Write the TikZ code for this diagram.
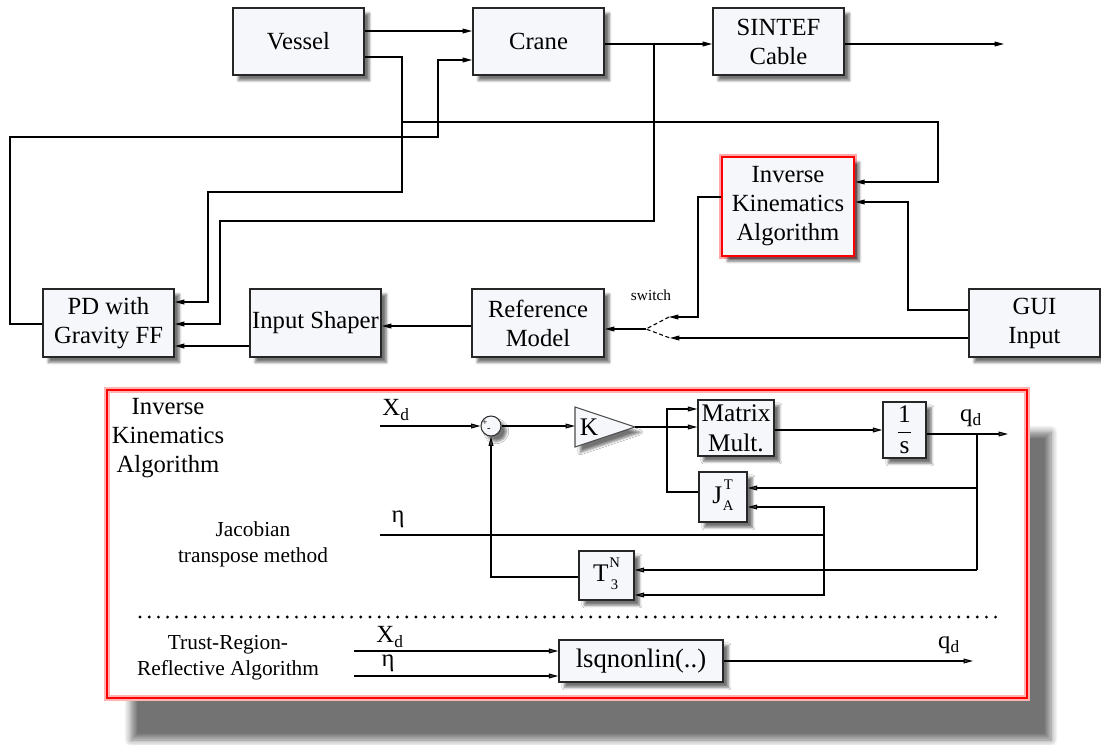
\documentclass[tikz,border=0pt]{standalone}
\usepackage{fontspec}
\setmainfont{Liberation Serif}
\usetikzlibrary{arrows.meta,shadows.blur,calc}
\definecolor{boxfill}{HTML}{F5F7FA}
\newcommand{\SupSub}[3]{#1\kern0.5pt\raisebox{2pt}{\fontsize{11}{11}\selectfont\begin{tabular}[c]{@{}c@{}}#2\\[5pt]#3\end{tabular}}}
\tikzset{
  wh/.style 2 args={minimum width=#1*0.75pt, minimum height=#2*0.75pt},
  bshadow/.style={blur shadow={shadow xshift=4pt, shadow yshift=-4pt, shadow blur steps=6, shadow opacity=55}},
  blk/.style={draw=black!85, line width=1.4pt, fill=boxfill, inner sep=1pt, align=center,
    font=\fontsize{18.5}{21.75}\selectfont, bshadow},
  sblk/.style={draw=black!85, line width=1.1pt, fill=boxfill, inner sep=1pt, align=center,
    font=\fontsize{19}{22.5}\selectfont, bshadow},
  arr/.style={line width=0.8pt, -{Triangle[length=7pt,width=3.6pt]}},
  ln/.style={line width=0.8pt},
  lbl/.style={font=\fontsize{18.5}{21.75}\selectfont, align=center, inner sep=0pt},
  slbl/.style={font=\fontsize{16}{19.5}\selectfont, align=center, inner sep=0pt},
}
\begin{document}
\begin{tikzpicture}[x=0.75pt,y=-0.75pt]
\useasboundingbox (0,0) rectangle (1101,744);
% ---------------- top diagram ----------------
\node[blk, wh={131}{67}] (vessel) at (298.5,41.5) {Vessel};
\node[blk, wh={131}{67}] (crane) at (538.5,41.5) {Crane};
\node[blk, wh={131}{67}] (sintef) at (778.5,41.5) {SINTEF\\Cable};
\path[draw=red!35, line width=4pt] (722,157) rectangle (854,256);
\node[blk, wh={132}{99}, draw=red, line width=2pt] (ik) at (788,206.5) {Inverse\\Kinematics\\Algorithm};
\node[blk, wh={131}{68}] (pd) at (108.5,323) {PD with\\Gravity FF};
\node[blk, wh={131}{68}, inner sep=0pt] (shaper) at (315.5,323) {Input Shaper};
\node[blk, wh={132}{68}] (ref) at (538,323) {Reference\\Model};
\node[blk, wh={131}{68}] (gui) at (1034.5,323) {GUI\\Input};

\coordinate (swtop) at (669,317);
\coordinate (swbot) at (670,338);
\coordinate (pivot) at (646,329);
\coordinate (outA) at (1004,44);

\draw[arr] (vessel.east |- 0,31) -- (crane.west |- 0,31);
\draw[arr] (vessel.east |- 0,57) -| (402,192) -| (208,302) -- (pd.east |- 0,302);
\draw[arr] (401,122) -| (938,182) -- (ik.east |- 0,182);
\draw[arr] (pd.west |- 0,324) -| (10,137) -| (438,60) -- (crane.west |- 0,60);
\draw[arr] (crane.east |- 0,44) -- (sintef.west |- 0,44);
\draw[arr] (654,44) -- (654,221) -| (220,324) -- (pd.east |- 0,324);
\draw[arr] (sintef.east |- 0,44) -- (outA);
\draw[arr] (shaper.west |- 0,346) -- (pd.east |- 0,346);
\draw[arr] (ref.west |- 0,326) -- (shaper.east |- 0,326);
\draw[arr] (gui.west |- 0,310) -| (908,202) -- (ik.east |- 0,202);
\draw[arr] (ik.west |- 0,197) -| (698,317) -- (swtop);
\draw[arr] (gui.west |- 0,338) -- (swbot);
\draw[ln, dash pattern=on 3pt off 2pt] (swtop) -- (pivot) -- (swbot);
\draw[arr] (pivot) -- (ref.east |- pivot);
\node[font=\fontsize{11.5}{13}\selectfont, inner sep=0pt] (swlbl) at (651,295) {switch};

% ---------------- lower panel ----------------
\path[blur shadow={shadow xshift=18pt, shadow yshift=-31.5pt, shadow blur steps=8, shadow opacity=55, shadow blur radius=5pt}]
  (107,390) rectangle (1027,698);
\path[draw=red!30, line width=5pt, fill=white] (107,390) rectangle (1027,698);
\node[draw=red, line width=2.2pt, wh={920}{308}, inner sep=0pt] (frame) at (567,544) {};

\node[lbl] (iktitle) at (168,438) {Inverse\\Kinematics\\Algorithm};
\node[slbl] (jtm) at (253,544) {Jacobian\\transpose method};
\node[slbl] (trr) at (228,658) {Trust-Region-\\Reflective Algorithm};

\node[lbl] (xd1) at (396,410) {X\textsubscript{d}};
\node[lbl] (eta1) at (398,519) {η};
\node[lbl] (qd1) at (971,418) {q\textsubscript{d}};
\node[lbl] (xd2) at (390,637) {X\textsubscript{d}};
\node[lbl] (eta2) at (388,663) {η};
\node[lbl] (qd2) at (949,645) {q\textsubscript{d}};

\node[circle, draw=black!80, line width=0.8pt, fill=boxfill, minimum size=15pt, inner sep=0pt, bshadow] (sum) at (491,426) {};
\node[font=\fontsize{7}{7}\selectfont, inner sep=0pt] (plus) at (485,423) {+};
\node[font=\fontsize{8}{8}\selectfont, inner sep=0pt] (minus) at (489,430) {-};

\filldraw[fill=boxfill, draw=black!70, line width=0.8pt, bshadow] (575,407) -- (635,427) -- (575,447) -- cycle;
\node[font=\fontsize{19}{22}\selectfont, inner sep=0pt] (K) at (589,427) {K};
\coordinate (Kin) at (575,426);
\coordinate (Kout) at (635,427);

\node[sblk, wh={76}{56}, inner sep=0pt] (mm) at (736,428) {Matrix\\Mult.};
\node[sblk, wh={43}{56}] (ons) at (904.5,430) {$\displaystyle\frac{\textrm{1}}{\textrm{s}}$};
\node[sblk, wh={48}{50}] (J) at (723,497) {\SupSub{J}{T}{A}};
\node[sblk, wh={55}{49}] (T) at (606.5,575.5) {\SupSub{T}{N}{3}};
\node[sblk, wh={164}{42}, font=\fontsize{20}{24}\selectfont] (lsq) at (641,661) {lsqnonlin(..)};

\coordinate (xdin) at (380,426);
\coordinate (etain) at (380,535);
\coordinate (qout) at (1008,434);
\coordinate (in1) at (354,651);
\coordinate (in2) at (354,676);
\coordinate (qout2) at (973,661);

\draw[arr] (xdin) -- (sum.west);
\draw[arr] (sum.east) -- (Kin);
\draw[arr] (Kout) -- (mm.west |- Kout);
\draw[arr] (J.west |- 0,492) -| (667,409) -- (mm.west |- 0,409);
\draw[arr] (mm.east |- 0,430) -- (ons.west |- 0,430);
\draw[arr] (ons.east |- 0,434) -- (qout);
\draw[ln] (977,434) -- (977,570);
\draw[arr] (977,488) -- (J.east |- 0,488);
\draw[arr] (977,570) -- (T.east |- 0,570);
\draw[arr] (etain) -| (824,507) -- (J.east |- 0,507);
\draw[arr] (824,535) -- (824,595) -- (T.east |- 0,595);
\draw[arr] (T.west |- 0,577) -| (sum.south);
\draw[line width=2.4pt, line cap=round, dash pattern=on 0pt off 6.9pt] (140,617) -- (1001,617);
\draw[arr] (in1) -- (lsq.west |- in1);
\draw[arr] (in2) -- (lsq.west |- in2);
\draw[arr] (lsq.east |- qout2) -- (qout2);
\end{tikzpicture}
\end{document}
